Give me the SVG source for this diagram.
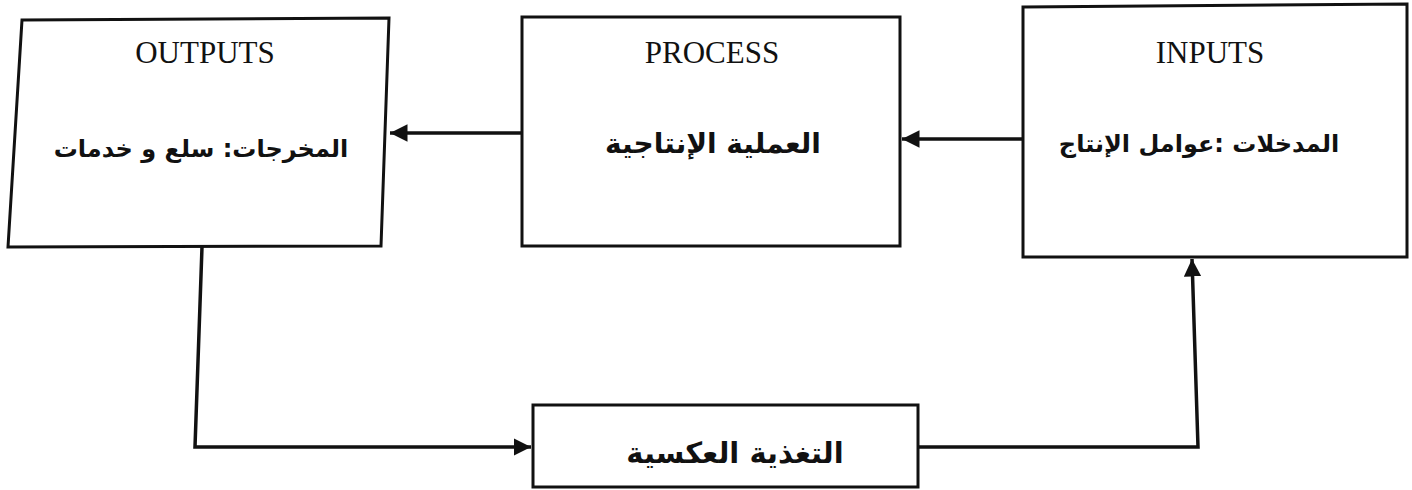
<svg xmlns="http://www.w3.org/2000/svg" width="1412" height="490" viewBox="0 0 1412 490">
<defs>
<style>
.box{fill:#fff;stroke:#111;stroke-width:3}
.line{fill:none;stroke:#111;stroke-width:3.5;stroke-linejoin:miter}
.en{font-family:"Liberation Serif","Times New Roman",serif;font-size:31px;fill:#111;text-anchor:middle}
.ar{font-family:"DejaVu Sans","Noto Sans",sans-serif;font-weight:bold;fill:#111;text-anchor:middle;direction:rtl;unicode-bidi:embed}
</style>
<marker id="ah" viewBox="0 0 10 10" refX="10" refY="5" markerWidth="5" markerHeight="5" orient="auto" markerUnits="strokeWidth">
<path d="M0,0 L10,5 L0,10 z" fill="#111"/>
</marker>
</defs>
<rect width="1412" height="490" fill="#fff"/>
<g id="outputs">
<path class="box" d="M22,20 L389,18 L381,246 L8,247 Z"/>
<text class="en" x="205" y="63">OUTPUTS</text>
<text class="ar" x="201" y="157" font-size="24">المخرجات: سلع و خدمات</text>
</g>
<g id="process">
<rect class="box" x="522" y="17" width="378" height="229"/>
<text class="en" x="712" y="63">PROCESS</text>
<text class="ar" x="713" y="153" font-size="28">العملية الإنتاجية</text>
</g>
<g id="inputs">
<path class="box" d="M1023,7 L1407,4 L1407,257 L1023,257 Z"/>
<text class="en" x="1210" y="63">INPUTS</text>
<text class="ar" x="1199" y="152" font-size="24">المدخلات :عوامل الإنتاج</text>
</g>
<g id="feedback">
<rect class="box" x="533" y="405" width="385" height="82"/>
<text class="ar" x="735" y="463" font-size="29">التغذية العكسية</text>
</g>
<g id="connectors">
<path class="line" d="M522,133 L390,133" marker-end="url(#ah)"/>
<path class="line" d="M1023,139 L902,139" marker-end="url(#ah)"/>
<path class="line" d="M202,247 L195,447 L531,447" marker-end="url(#ah)"/>
<path class="line" d="M918,447 L1198,447 L1192,259" marker-end="url(#ah)"/>
</g>
</svg>
